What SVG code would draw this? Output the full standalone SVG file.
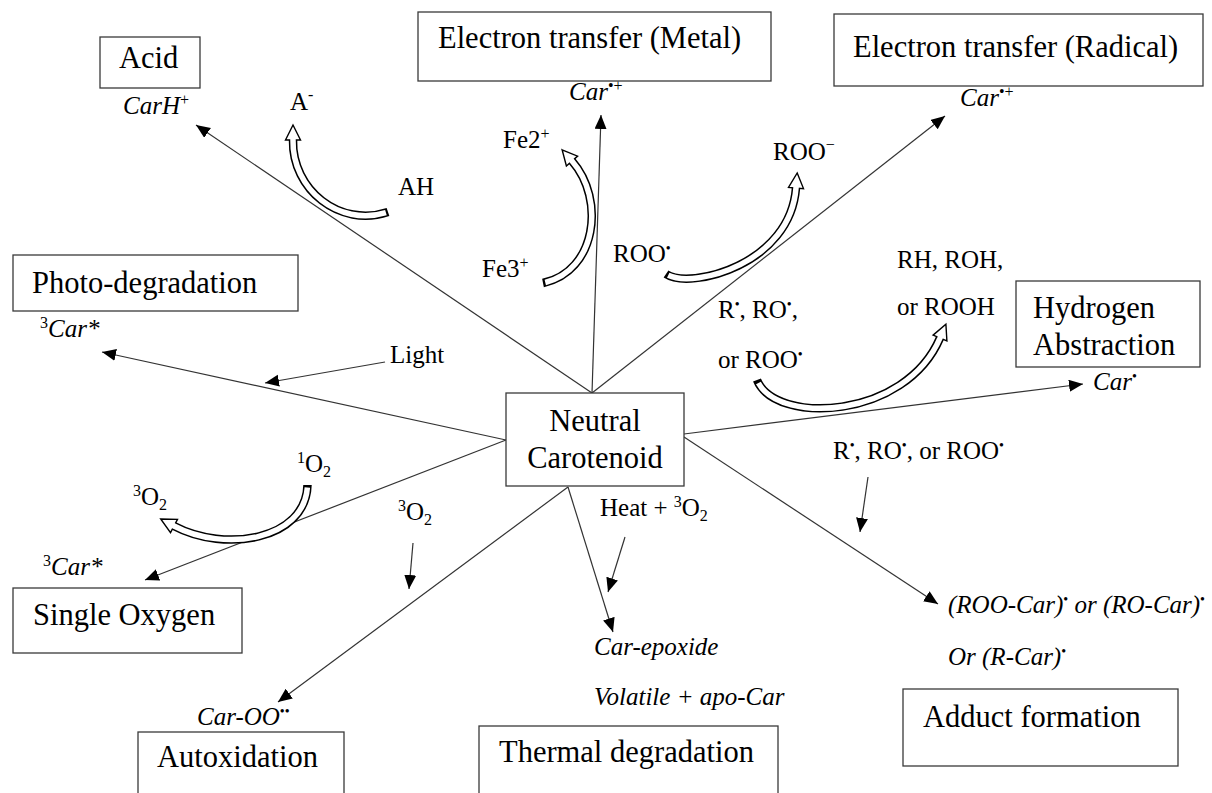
<svg xmlns="http://www.w3.org/2000/svg" width="1212" height="793" viewBox="0 0 1212 793">
<style>
.box{fill:#fff;stroke:#3a3a3a;stroke-width:1.3}
.bt{font-family:"Liberation Serif","Times New Roman",serif;font-size:30.5px;fill:#000}
.lb{font-family:"Liberation Serif","Times New Roman",serif;font-size:25px;fill:#000}
.it{font-style:italic}
.sp{font-size:16px;font-style:normal}
.dot{font-size:14px;font-style:normal}
.conn{stroke:#333;stroke-width:1.2;fill:none;marker-end:url(#ah)}
.hb{fill:none;stroke:#000;stroke-width:8.5}
.hw{fill:none;stroke:#fff;stroke-width:5.5}
.hh{fill:#fff;stroke:#000;stroke-width:1.4;stroke-linejoin:miter}
</style>
<defs>
<marker id="ah" markerUnits="userSpaceOnUse" markerWidth="16" markerHeight="14" refX="14" refY="6" orient="auto">
<path d="M0,0 L14,6 L0,12 Z" fill="#000"/>
</marker>
</defs>
<rect width="1212" height="793" fill="#fff"/>

<g id="connectors">
<line class="conn" x1="592" y1="393" x2="196" y2="125"/>
<line class="conn" x1="592" y1="393" x2="601" y2="115"/>
<line class="conn" x1="592" y1="393" x2="945" y2="116"/>
<line class="conn" x1="506" y1="440" x2="102" y2="352"/>
<line class="conn" x1="506" y1="440" x2="145" y2="580"/>
<line class="conn" x1="568" y1="487" x2="278" y2="702"/>
<line class="conn" x1="568" y1="487" x2="613" y2="632"/>
<line class="conn" x1="684" y1="437" x2="938" y2="604"/>
<line class="conn" x1="684" y1="434" x2="1083" y2="384"/>
<line class="conn" x1="385" y1="362" x2="265" y2="383"/>
<line class="conn" x1="413" y1="543" x2="409" y2="589"/>
<line class="conn" x1="625" y1="537" x2="608" y2="592"/>
<line class="conn" x1="868" y1="477" x2="860" y2="532"/>

<g id="hollow-acid">
<polygon class="hh" points="293,125 300.5,140 285.5,140"/>
<path class="hb" d="M388,212 C340,228 292,190 293,140"/>
<path class="hw" pathLength="100" stroke-dasharray="0 1.5 200" d="M388,212 C340,228 292,190 293,140 L293,137"/>
</g>
<g id="hollow-metal">
<polygon class="hh" points="562.1,149.8 577.6,156.1 566.4,166"/>
<path class="hb" d="M543,283 C596,272 606,200 572,161"/>
<path class="hw" pathLength="100" stroke-dasharray="0 1.5 200" d="M543,283 C596,272 606,200 572,161 L570.7,159.5"/>
</g>
<g id="hollow-radical">
<polygon class="hh" points="797.2,173 803.5,188.6 788.5,187.4"/>
<path class="hb" d="M666,274 C690,290 790,265 796,188"/>
<path class="hw" pathLength="100" stroke-dasharray="0 1.5 200" d="M666,274 C690,290 790,265 796,188 L796.2,185.5"/>
</g>
<g id="hollow-hydrogen">
<polygon class="hh" points="945.9,324.2 946.9,340.9 933.1,335.1"/>
<path class="hb" d="M757,380 C775,425 905,420 940,338"/>
<path class="hw" pathLength="100" stroke-dasharray="0 1.5 200" d="M757,380 C775,425 905,420 940,338 L940.8,336"/>
</g>
<g id="hollow-singlet">
<polygon class="hh" points="160.7,519 177.5,519.4 170.5,532.6"/>
<path class="hb" d="M307.5,485 C306,540 225,553 174,526"/>
<path class="hw" pathLength="100" stroke-dasharray="0 1.5 200" d="M307.5,485 C306,540 225,553 174,526 L172.2,525"/>
</g>
</g>

<g id="node-acid">
<rect class="box" x="100" y="37" width="100" height="51"/>
<text class="bt" x="119" y="68">Acid</text>
</g>
<g id="node-metal">
<rect class="box" x="418" y="12" width="353" height="69"/>
<text class="bt" x="438" y="48">Electron transfer (Metal)</text>
</g>
<g id="node-radical">
<rect class="box" x="834" y="14" width="369" height="72"/>
<text class="bt" x="853" y="57">Electron transfer (Radical)</text>
</g>
<g id="node-photo">
<rect class="box" x="13" y="255" width="285" height="56"/>
<text class="bt" x="32" y="293">Photo-degradation</text>
</g>
<g id="node-hydrogen">
<rect class="box" x="1016" y="281" width="184" height="86"/>
<text class="bt" x="1033" y="318">Hydrogen</text>
<text class="bt" x="1033" y="355">Abstraction</text>
</g>
<g id="node-neutral">
<rect class="box" x="506" y="393" width="178" height="93"/>
<text class="bt" x="595" y="431" text-anchor="middle">Neutral</text>
<text class="bt" x="595" y="468" text-anchor="middle">Carotenoid</text>
</g>
<g id="node-singlet">
<rect class="box" x="13" y="588" width="229" height="65"/>
<text class="bt" x="33" y="625">Single Oxygen</text>
</g>
<g id="node-autox">
<rect class="box" x="138" y="732" width="206" height="70"/>
<text class="bt" x="157" y="767">Autoxidation</text>
</g>
<g id="node-thermal">
<rect class="box" x="479" y="726" width="299" height="76"/>
<text class="bt" x="499" y="762">Thermal degradation</text>
</g>
<g id="node-adduct">
<rect class="box" x="903" y="689" width="275" height="77"/>
<text class="bt" x="923" y="727">Adduct formation</text>
</g>

<g id="labels">
<text class="lb it" x="123" y="114">CarH<tspan class="sp" dy="-9">+</tspan></text>
<text class="lb" x="290" y="110">A<tspan class="sp" dy="-10">-</tspan></text>
<text class="lb" x="398" y="195">AH</text>
<text class="lb" x="569" y="100"><tspan class="it">Car</tspan><tspan class="sp" dy="-9">•+</tspan></text>
<text class="lb" x="503" y="148">Fe2<tspan class="sp" dy="-9">+</tspan></text>
<text class="lb" x="482" y="277">Fe3<tspan class="sp" dy="-9">+</tspan></text>
<text class="lb" x="613" y="262">ROO<tspan class="dot" dy="-9">•</tspan></text>
<text class="lb" x="773" y="160">ROO<tspan class="sp" dy="-10">−</tspan></text>
<text class="lb" x="960" y="106"><tspan class="it">Car</tspan><tspan class="sp" dy="-9">•+</tspan></text>
<text class="lb" x="897" y="268">RH, ROH,</text>
<text class="lb" x="897" y="315">or ROOH</text>
<text class="lb" x="718" y="318">R<tspan class="dot" dy="-9">•</tspan><tspan dy="9">, RO</tspan><tspan class="dot" dy="-9">•</tspan><tspan dy="9">,</tspan></text>
<text class="lb" x="718" y="368">or ROO<tspan class="dot" dy="-9">•</tspan></text>
<text class="lb" x="1093" y="390"><tspan class="it">Car</tspan><tspan class="dot" dy="-9">•</tspan></text>
<text class="lb" x="390" y="363">Light</text>
<text class="lb" x="40" y="337"><tspan class="sp" dy="-9">3</tspan><tspan class="it" dy="9">Car*</tspan></text>
<text class="lb" x="297" y="472"><tspan class="sp" dy="-9">1</tspan><tspan dy="9">O</tspan><tspan class="sp" dy="5">2</tspan></text>
<text class="lb" x="133" y="505"><tspan class="sp" dy="-9">3</tspan><tspan dy="9">O</tspan><tspan class="sp" dy="5">2</tspan></text>
<text class="lb" x="398" y="520"><tspan class="sp" dy="-9">3</tspan><tspan dy="9">O</tspan><tspan class="sp" dy="5">2</tspan></text>
<text class="lb" x="43" y="575"><tspan class="sp" dy="-9">3</tspan><tspan class="it" dy="9">Car*</tspan></text>
<text class="lb" x="600" y="516">Heat + <tspan class="sp" dy="-9">3</tspan><tspan dy="9">O</tspan><tspan class="sp" dy="5">2</tspan></text>
<text class="lb" x="833" y="459">R<tspan class="dot" dy="-9">•</tspan><tspan dy="9">, RO</tspan><tspan class="dot" dy="-9">•</tspan><tspan dy="9">, or ROO</tspan><tspan class="dot" dy="-9">•</tspan></text>
<text class="lb it" x="948" y="613">(ROO-Car)<tspan class="dot" dy="-9">•</tspan><tspan dy="9"> or (RO-Car)</tspan><tspan class="dot" dy="-9">•</tspan></text>
<text class="lb it" x="948" y="665">Or (R-Car)<tspan class="dot" dy="-9">•</tspan></text>
<text class="lb it" x="594" y="655">Car-epoxide</text>
<text class="lb it" x="594" y="705">Volatile + apo-Car</text>
<text class="lb it" x="197" y="725">Car-OO<tspan class="dot" dy="-9">••</tspan></text>
</g>
</svg>
